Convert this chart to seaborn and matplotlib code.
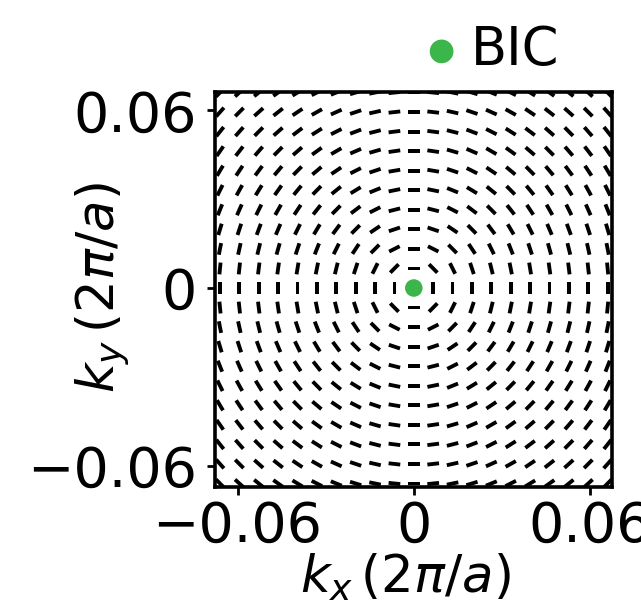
import numpy as np
import pandas as pd
import matplotlib
matplotlib.use("Agg")
import matplotlib.pyplot as plt
import seaborn as sns

# ---- data ----
kx_vals = np.linspace(-0.066, 0.066, 21)   # grid of k-points (2pi/a)
ky_vals = np.linspace(-0.066, 0.066, 21)
seg_len = 0.0040                            # polarization segment length
bic_kx = [0.0]
bic_ky = [0.0]
bic_label = "BIC"
xticks = [-0.06, 0, 0.06]
yticks = [-0.06, 0, 0.06]
tick_labels = ["\u22120.06", "0", "0.06"]
green = "#3cb54a"

sns.set_style("ticks")
plt.rcParams["font.family"] = ["DejaVu Sans"]
plt.rcParams["mathtext.fontset"] = "dejavusans"
plt.rcParams["text.color"] = "black"
plt.rcParams["axes.labelcolor"] = "black"

fig = plt.figure(figsize=(6.41, 6.13), dpi=100)
ax = fig.add_axes([0.3354, 0.2055, 0.6194, 0.6445])

KX, KY = np.meshgrid(kx_vals, ky_vals)
r = np.hypot(KX, KY)
mask = r > 1e-9
phi = np.arctan2(KY, KX) + np.pi / 2     # azimuthal (vortex) polarization
U = np.cos(phi) * seg_len
V = np.sin(phi) * seg_len
ax.quiver(KX[mask], KY[mask], U[mask], V[mask], pivot="middle",
          angles="xy", scale_units="xy", scale=1, units="xy", width=0.0013,
          headwidth=0, headlength=0, headaxislength=0, color="black",
          zorder=2, clip_on=True)

df = pd.DataFrame({"kx": bic_kx, "ky": bic_ky, "lab": [bic_label]})
sns.scatterplot(data=df, x="kx", y="ky", color=green, s=160, edgecolor="none",
                ax=ax, zorder=4, label=bic_label, legend=False)

ax.set_xlim(-0.0677, 0.0675)
ax.set_ylim(-0.0672, 0.0662)
ax.set_aspect("auto")
ax.set_xticks(xticks)
ax.set_xticklabels(tick_labels)
ax.set_yticks(yticks)
ax.set_yticklabels(tick_labels)
ax.tick_params(axis="x", labelsize=40, length=6, width=2, direction="out",
               pad=3, colors="black")
ax.tick_params(axis="y", labelsize=40, length=6, width=2, direction="out",
               pad=7, colors="black")
for s in ax.spines.values():
    s.set_linewidth(2.6)
    s.set_color("black")

ax.set_xlabel(r"$k_x\,(2\pi/a)$", fontsize=37)
ax.set_ylabel(r"$k_y\,(2\pi/a)$", fontsize=37)
ax.xaxis.set_label_coords(0.479, -0.165)
ax.yaxis.set_label_coords(-0.212, 0.506)

h, l = ax.get_legend_handles_labels()
leg = fig.legend(h, l, loc="center", bbox_to_anchor=(0.76, 0.918),
                 frameon=False, fontsize=38, markerscale=1.35,
                 handletextpad=0.05, borderpad=0, handlelength=1.0)

fig.savefig("out.png", dpi=100)
